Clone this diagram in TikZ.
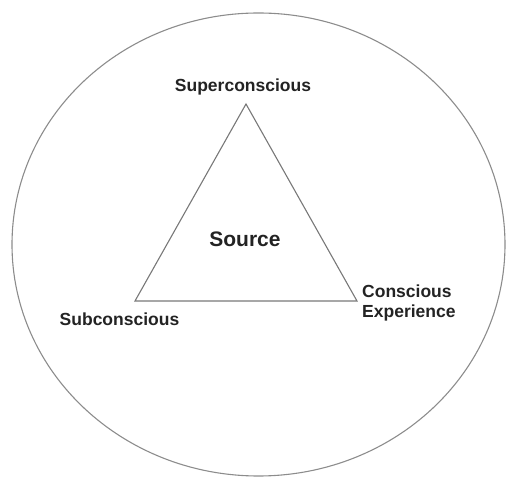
\documentclass[tikz,border=0pt]{standalone}
\usepackage{fontspec}
\setmainfont{Liberation Sans}
\usetikzlibrary{shapes.geometric}
\definecolor{linegray}{RGB}{120,120,120}
\definecolor{circgray}{RGB}{140,140,140}
\definecolor{txt}{RGB}{35,35,35}
\tikzset{
  lbl/.style={text=txt, font=\fontsize{17.5}{20.5}\selectfont\bfseries, inner sep=0pt},
  big/.style={text=txt, font=\fontsize{21}{24}\selectfont\bfseries, inner sep=0pt},
  edge/.style={draw=linegray, line width=1.1pt, line join=miter},
}
\begin{document}
\begin{tikzpicture}[x=1pt,y=-1pt]
\useasboundingbox (0,0) rectangle (507,478);
\node[ellipse, draw=circgray, line width=1.1pt, minimum width=493pt, minimum height=463pt, inner sep=0pt] (outer) at (258.5,244.5) {};
\coordinate (top) at (246,104);
\coordinate (bl) at (135,301);
\coordinate (br) at (357,301);
\draw[edge] (top) -- (bl) -- (br) -- cycle;
\node[lbl] (super) at (243,86.5) {Superconscious};
\node[big] (source) at (245,239) {Source};
\node[lbl] (sub) at (119.5,319) {Subconscious};
\node[lbl, align=left, anchor=west] (con) at (362,303) {Conscious\\Experience};
\end{tikzpicture}
\end{document}
